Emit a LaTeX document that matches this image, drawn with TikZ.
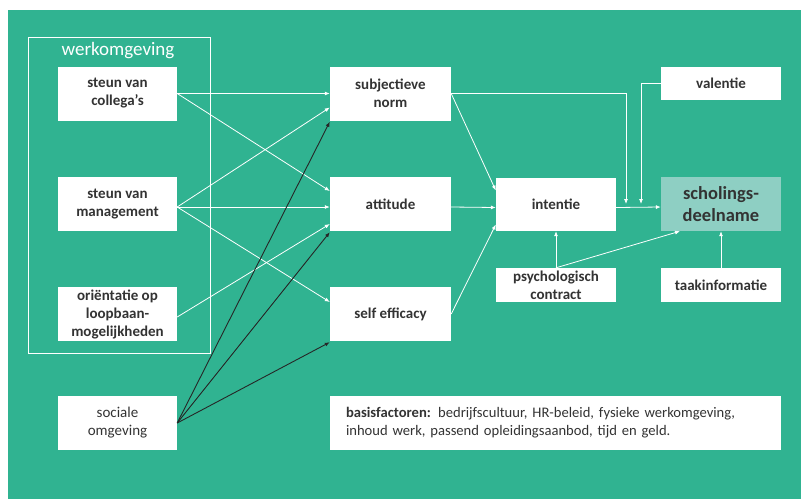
\documentclass[tikz,border=0pt]{standalone}
\usepackage{fontspec}
\setmainfont{Carlito}
\usetikzlibrary{arrows.meta}

\definecolor{bggreen}{HTML}{30B391}
\definecolor{lightteal}{HTML}{8ECFC3}
\definecolor{txtgray}{HTML}{333333}

\tikzset{
  factor/.style={draw=none, fill=white, text=txtgray, align=center,
    minimum width=119pt, minimum height=54pt, inner sep=2pt,
    font=\fontsize{15}{18}\selectfont\bfseries},
  wit/.style={draw=white, line width=0.8pt, -{Latex[length=5pt,width=4pt]}},
  zwart/.style={draw=black!85, line width=0.9pt, -{Latex[length=5pt,width=4pt]}}
}

\begin{document}
\begin{tikzpicture}[x=1pt, y=-1pt]
\useasboundingbox (0, 0) rectangle (801, 499);
\fill[white] (0, 0) rectangle (801, 499);
\fill[bggreen] (8, 10) rectangle (801, 499);

% werkomgeving
\draw[white, line width=0.9pt] (28, 37) rectangle (210, 353);
\node[text=white, font=\fontsize{19}{22}\selectfont] (werk) at (118, 51) {werkomgeving};
\node[factor] (colleg) at (117.5, 93.5) {steun van\\collega's};
\node[factor] (mgmt) at (117.5, 204) {steun van\\management};
\node[factor] (orient) at (117.5, 314) {oriëntatie op\\loopbaan-\\mogelijkheden};
\node[factor, font=\fontsize{15}{18}\selectfont] (sociaal) at (117.5, 423) {sociale\\omgeving};

% midden
\node[factor, minimum width=121pt] (norm) at (390.5, 93.5) {subjectieve\\norm};
\node[factor, minimum width=121pt] (attitude) at (390.5, 204) {attitude};
\node[factor, minimum width=121pt] (efficacy) at (390.5, 314) {self efficacy};
\node[factor, minimum width=120pt, minimum height=53pt] (intentie) at (556, 204.5) {intentie};
\node[factor, minimum width=120pt, minimum height=34pt] (psycho) at (556, 285) {psychologisch\\contract};

% rechts
\node[factor, minimum width=120pt, minimum height=33pt] (valentie) at (721, 83.5) {valentie};
\node[factor, minimum width=120pt, fill=lightteal,
  font=\fontsize{18.5}{22}\selectfont\bfseries] (scholing) at (721, 204) {scholings-\\deelname};
\node[factor, minimum width=120pt, minimum height=34pt] (taak) at (721, 285) {taakinformatie};

% basisfactoren
\node[factor, minimum width=451pt, align=left, text width=419pt,
  font=\fontsize{14.6}{18}\selectfont] (basis) at (555.5, 423)
  {\textbf{basisfactoren:} bedrijfscultuur, HR-beleid, fysieke werkomgeving,\\inhoud werk, passend opleidingsaanbod, tijd en geld.};

\coordinate (knikA) at (626, 204);
\coordinate (knikB) at (641, 204);

% pijlen werkomgeving
\draw[wit] (colleg.east) -- (norm.west);
\draw[wit] (colleg.east) -- ([yshift=13pt]attitude.west);
\draw[wit] ([yshift=-3pt]mgmt.east) -- ([yshift=-14pt]norm.west);
\draw[wit] ([yshift=-3pt]mgmt.east) -- ([yshift=-3pt]attitude.west);
\draw[wit] ([yshift=-3pt]mgmt.east) -- ([yshift=12pt]efficacy.west);
\draw[wit] ([yshift=-3pt]orient.east) -- ([yshift=-20pt]attitude.west);
\draw[zwart] (sociaal.east) -- ([yshift=-1pt]norm.south west);
\draw[zwart] (sociaal.east) -- ([yshift=-1pt]attitude.south west);
\draw[zwart] (sociaal.east) -- ([yshift=-1pt]efficacy.south west);

% pijlen naar intentie
\draw[wit] (norm.east) -- ([yshift=14pt]intentie.west);
\draw[wit] ([yshift=-3pt]attitude.east) -- ([yshift=-3pt]intentie.west);
\draw[wit] (efficacy.east) -- ([yshift=-20pt]intentie.west);
\draw[wit] (psycho.north) -- (intentie.south);

% pijlen naar scholingsdeelname
\draw[wit] ([yshift=-3pt]intentie.east) -- ([yshift=-3pt]scholing.west);
\draw[wit] (norm.east) -| (knikA);
\draw[wit] (valentie.west) -| (knikB);
\draw[wit] (psycho.north) -- ([xshift=-41pt]scholing.south);
\draw[wit] (taak.north) -- (scholing.south);
\end{tikzpicture}
\end{document}
